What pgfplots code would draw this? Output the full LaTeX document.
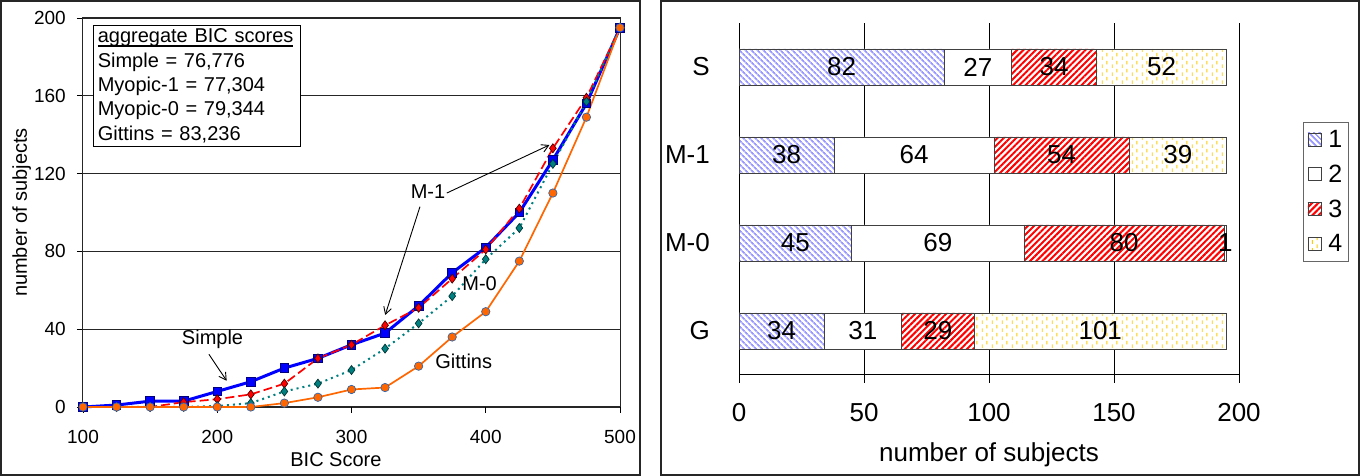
\documentclass[border=0pt]{standalone}
\usepackage{pgfplots}
\usepackage{pgfplotstable}
\pgfplotsset{compat=1.18}
\usepackage{fontspec}
\setmainfont{Liberation Sans}
\usetikzlibrary{patterns,patterns.meta,arrows.meta}

\definecolor{sblue}{HTML}{0000FF}
\definecolor{snavy}{HTML}{000080}
\definecolor{mred}{HTML}{FF0000}
\definecolor{mteal}{HTML}{008080}
\definecolor{gorange}{HTML}{FF6600}
\definecolor{gedge}{HTML}{3366AA}
\definecolor{pblue}{HTML}{9999FF}
\definecolor{pgold}{HTML}{FFCC00}

\newcommand{\fs}[1]{\fontsize{#1}{#1}\selectfont}
\newlength{\ulwd}
\newcommand{\thickul}[1]{\settowidth{\ulwd}{#1}\rlap{\rule[-4pt]{\ulwd}{1.6pt}}#1}

\tikzdeclarepattern{
  name=vdash,
  type=uncolored,
  bounding box={(0pt,0pt) and (10pt,8pt)},
  tile size={(10pt,8pt)},
  code={
    \draw[line width=1pt] (2.5pt,0pt) -- (2.5pt,4pt) (7.5pt,4pt) -- (7.5pt,8pt);
  }
}

\pgfplotstableread{
x    simple  mone  mzero  gitt
100  0       0     0      0
125  1       0     0      0
150  3       0     0      0
175  3       2.5   0      0
200  8       4     0.5    0
225  13      6.5   2      0
250  20      12    8      2
275  25      25    12     5
300  32      32    19     9
325  38      42    30     10
350  52      51    43     21
375  69      66    57     36
400  82      81    76     49
425  100     102   92     75
450  127     133   125    110
475  156     159   157    149
500  195     195   195    195
}\bicdata

\pgfplotstableread{
y  a   b   c   d
0  34  31  29  101
1  45  69  80  1
2  38  64  54  39
3  82  27  34  52
}\bardata

\begin{document}
\begin{tikzpicture}
\path (0pt,0pt) rectangle (1369pt,476pt);

% ---------------- left chart ----------------
\begin{axis}[
  at={(83pt,69pt)}, anchor=south west,
  scale only axis, width=537pt, height=389pt,
  xmin=100, xmax=500, ymin=0, ymax=200,
  enlargelimits=false,
  xtick={100,200,...,500}, ytick={0,40,...,200},
  xtick pos=left, ytick pos=left,
  ymajorgrids, major grid style={black!85, line width=0.9pt},
  tick align=outside, major tick length=6pt,
  tick style={black, line width=0.9pt},
  axis line style={black!85, line width=1pt},
  clip=false,
  /pgf/number format/assume math mode=true,
  xticklabel style={font=\fs{19}, anchor=north, inner sep=0pt, yshift=-17pt},
  yticklabel style={font=\fs{19}, anchor=east, inner sep=0pt, xshift=-11pt},
  xlabel={BIC Score},
  xlabel style={font=\fs{20}, at={(axis description cs:0.471,-0.136)}, anchor=center},
  ylabel={number of subjects},
  ylabel style={font=\fs{20}, at={(axis description cs:-0.114,0.5)}, anchor=center},
]
\addplot[sblue, line width=3pt, mark=square*, mark size=4.3pt,
  mark options={fill=sblue, draw=snavy, line width=0.8pt}]
  table[x=x, y=simple]{\bicdata};
\addplot[mred, line width=1.7pt, dash pattern=on 9pt off 4pt, mark=diamond*, mark size=4.5pt,
  mark options={solid, fill=mred, draw=black!70!red, line width=0.7pt}]
  table[x=x, y=mone]{\bicdata};
\addplot[mteal, line width=2pt, dash pattern=on 2pt off 4pt, mark=diamond*, mark size=4.5pt,
  mark options={solid, fill=mteal, draw=black!60!mteal, line width=0.7pt}]
  table[x=x, y=mzero]{\bicdata};
\addplot[gorange, line width=1.7pt, mark=*, mark size=4.2pt,
  mark options={fill=gorange, draw=gedge, line width=0.7pt}]
  table[x=x, y=gitt]{\bicdata};

\node[font=\fs{20}] at (axis cs:357,110.7) {M-1};
\draw[-{Straight Barb[length=7pt,width=8pt]}, line width=0.9pt]
  (axis cs:371,110) -- (axis cs:447.4,134.7);
\draw[-{Straight Barb[length=7pt,width=8pt]}, line width=0.9pt]
  (axis cs:351,103) -- (axis cs:325.1,47.3);
\node[font=\fs{20}] at (axis cs:395.4,63.6) {M-0};
\node[font=\fs{20}] at (axis cs:196.5,34.8) {Simple};
\draw[-{Straight Barb[length=7pt,width=8pt]}, line width=0.9pt]
  (axis cs:193.8,27.1) -- (axis cs:207,13.5);
\node[font=\fs{20}] at (axis cs:383.6,23.3) {Gittins};

\node[draw=black, line width=1pt, fill=white, anchor=north west,
  inner xsep=4pt, inner ysep=3.5pt, align=left, text width=199pt,
  font=\fontsize{20}{24.3}\selectfont] at (rel axis cs:0.0192,0.982)
  {\thickul{aggregate BIC scores}\\Simple = 76,776\\Myopic-1 = 77,304\\Myopic-0 = 79,344\\Gittins = 83,236};
\end{axis}

% ---------------- right chart: bars ----------------
\begin{axis}[
  at={(739pt,101pt)}, anchor=south west,
  scale only axis, width=500pt, height=352pt,
  xbar stacked, bar width=36pt,
  xmin=0, xmax=200, ymin=-0.5, ymax=3.5,
  enlargelimits=false,
  axis x line*=bottom, axis y line*=left,
  axis line style={-, black, line width=1pt},
  xtick={0,50,...,200},
  ytick={0,1,2,3}, yticklabels={G,M-0,M-1,S},
  minor ytick={-0.5,0.5,1.5,2.5,3.5},
  xmajorgrids, major grid style={black, line width=0.9pt},
  tick align=outside, major tick length=8pt, minor tick length=8pt,
  xtick style={black, line width=0.9pt},
  ytick style={draw=none},
  minor tick style={black, line width=0.9pt},
  /pgf/number format/assume math mode=true,
  xticklabel style={font=\fs{26}, anchor=north, inner sep=0pt, yshift=-20pt},
  yticklabel style={font=\fs{26}, anchor=east, inner sep=0pt, xshift=-21pt},
  xlabel={number of subjects},
  xlabel style={font=\fs{26}, at={(axis description cs:0.5,-0.227)}, anchor=center},
  legend style={at={(axis description cs:1.128,0.72)}, anchor=north west,
    draw=black!60, line width=1pt, font=\fs{25}, inner xsep=4pt, inner ysep=6pt,
    row sep=12pt, cells={anchor=west}},
  legend image code/.code={\draw[#1, line width=0.8pt] (0pt,-6.5pt) rectangle (13pt,6.5pt);},
]
\addplot[fill=white, draw=black!75, line width=0.9pt,
  postaction={pattern={Lines[angle=-45,distance=4pt,line width=1.9pt]}, pattern color=pblue}]
  table[x=a, y=y]{\bardata};
\addplot[fill=white, draw=black!75, line width=0.9pt]
  table[x=b, y=y]{\bardata};
\addplot[fill=white, draw=black!75, line width=0.9pt,
  postaction={pattern={Lines[angle=45,distance=4.4pt,line width=2pt]}, pattern color=mred}]
  table[x=c, y=y]{\bardata};
\addplot[fill=white, draw=black!75, line width=0.9pt,
  postaction={pattern=vdash, pattern color=pgold}]
  table[x=d, y=y]{\bardata};
\legend{\hspace{5pt}1,\hspace{5pt}2,\hspace{5pt}3,\hspace{5pt}4}
\end{axis}

% ---------------- right chart: value labels ----------------
\begin{axis}[
  at={(739pt,101pt)}, anchor=south west,
  scale only axis, width=500pt, height=352pt,
  xmin=0, xmax=200, ymin=-0.5, ymax=3.5,
  enlargelimits=false, hide axis, clip=false,
  /pgf/number format/assume math mode=true,
  point meta=explicit,
  nodes near coords={\pgfmathprintnumber{\pgfplotspointmeta}},
  nodes near coords align={center},
  every node near coord/.append style={font=\fs{26}, inner sep=0pt, anchor=center},
]
\addplot[draw=none, mark=none] table[x expr=\thisrow{a}/2, y=y, meta=a]{\bardata};
\addplot[draw=none, mark=none] table[x expr=\thisrow{a}+\thisrow{b}/2, y=y, meta=b]{\bardata};
\addplot[draw=none, mark=none] table[x expr=\thisrow{a}+\thisrow{b}+\thisrow{c}/2, y=y, meta=c]{\bardata};
\addplot[draw=none, mark=none] table[x expr=\thisrow{a}+\thisrow{b}+\thisrow{c}+\thisrow{d}/2, y=y, meta=d]{\bardata};
\end{axis}

% panel frames
\draw[line width=1.5pt, black!85] (1pt,1pt) rectangle (640pt,475pt);
\draw[line width=1.5pt, black!85] (661pt,1pt) rectangle (1359pt,475pt);
\end{tikzpicture}
\end{document}
